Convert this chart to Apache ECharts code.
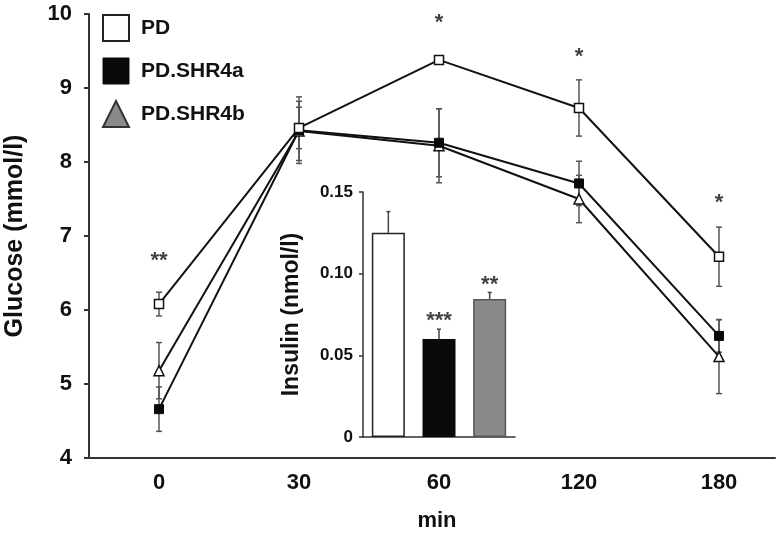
<!DOCTYPE html>
<html>
<head>
<meta charset="utf-8">
<script src="https://cdn.jsdelivr.net/npm/echarts@6/dist/echarts.min.js"></script>
<style>html,body{margin:0;padding:0;background:#fff;}#c{width:779px;height:533px;}</style>
</head>
<body>
<div id="c"></div>
<script>
// ---- data ----
var categories = ['0', '30', '60', '120', '180'];
var yTicks = [4, 5, 6, 7, 8, 9, 10];
var pdMean = [6.08, 8.46, 9.38, 8.73, 6.72];
var pdErr = [0.16, 0.28, 0.05, 0.38, 0.40];
var shr4aMean = [4.66, 8.43, 8.26, 7.71, 5.65];
var shr4aErr = [0.30, 0.45, 0.46, 0.30, 0.22];
var shr4bMean = [5.18, 8.42, 8.22, 7.50, 5.37];
var shr4bErr = [0.38, 0.40, 0.50, 0.32, 0.50];
var sigText = ['**', '', '*', '*', '*'];
var sigLevel = [6.66, null, 9.88, 9.42, 7.45];

var insulinGroups = ['PD', 'PD.SHR4a', 'PD.SHR4b'];
var insulinMean = [0.125, 0.060, 0.0845];
var insulinErr = [0.013, 0.006, 0.004];
var insulinSig = ['', '***', '**'];
var insulinSigLevel = [null, 0.071, 0.093];
var insulinTicks = [0, 0.05, 0.10, 0.15];

// ---- styles ----
var FONT = '"Liberation Sans", Arial, sans-serif';
var barFill = ['#ffffff', '#0a0a0a', '#8a8a8a'];
var barBorder = ['#222222', '#0a0a0a', '#555555'];

function pairs(arr) { return arr.map(function (v, i) { return [i, v]; }); }
function triples(m, e) { return m.map(function (v, i) { return [i, v, e[i]]; }); }

function errRender(params, api) {
  var x = api.value(0), y = api.value(1), e = api.value(2);
  var top = api.coord([x, y + e]), bot = api.coord([x, y - e]);
  var hw = 3, st = { stroke: '#555', lineWidth: 1.5 };
  return { type: 'group', children: [
    { type: 'line', shape: { x1: top[0], y1: top[1], x2: bot[0], y2: bot[1] }, style: st },
    { type: 'line', shape: { x1: top[0] - hw, y1: top[1], x2: top[0] + hw, y2: top[1] }, style: st },
    { type: 'line', shape: { x1: bot[0] - hw, y1: bot[1], x2: bot[0] + hw, y2: bot[1] }, style: st }
  ]};
}
function upErrRender(params, api) {
  var x = api.value(0), y = api.value(1), e = api.value(2);
  var base = api.coord([x, y]), top = api.coord([x, y + e]);
  var hw = 2, st = { stroke: '#444', lineWidth: 1.5 };
  return { type: 'group', children: [
    { type: 'line', shape: { x1: base[0], y1: base[1], x2: top[0], y2: top[1] }, style: st },
    { type: 'line', shape: { x1: top[0] - hw, y1: top[1], x2: top[0] + hw, y2: top[1] }, style: st }
  ]};
}

var chart = echarts.init(document.getElementById('c'), null, { renderer: 'canvas' });

var sigData = [];
sigText.forEach(function (t, i) { if (t) sigData.push({ value: [i, sigLevel[i]], txt: t }); });
var insSigData = [];
insulinSig.forEach(function (t, i) { if (t) insSigData.push({ value: [i, insulinSigLevel[i]], txt: t }); });

var lineCommon = {
  type: 'line', xAxisIndex: 0, yAxisIndex: 0, z: 5,
  lineStyle: { color: '#111', width: 2 },
  itemStyle: { borderColor: '#111', borderWidth: 1.5 },
  emphasis: { disabled: true }, animation: false
};

var option = {
  animation: false,
  backgroundColor: '#fff',
  textStyle: { fontFamily: FONT },
  legend: {
    orient: 'vertical', left: 102, top: 14, padding: 0,
    itemWidth: 26, itemHeight: 26, itemGap: 15.5,
    textStyle: { fontFamily: FONT, fontWeight: 'bold', fontSize: 21, color: '#111', padding: [0, 0, 0, 7] },
    selectedMode: false,
    data: [
      { name: 'PD', icon: 'rect', itemStyle: { color: '#fff', borderColor: '#222', borderWidth: 2 } },
      { name: 'PD.SHR4a', icon: 'rect', itemStyle: { color: '#0a0a0a', borderColor: '#0a0a0a', borderWidth: 1 } },
      { name: 'PD.SHR4b', icon: 'triangle', itemStyle: { color: '#8a8a8a', borderColor: '#333', borderWidth: 2 } }
    ]
  },
  grid: [
    { left: 89, right: 4, top: 14, bottom: 75, containLabel: false, outerBoundsMode: 'none' },
    { left: 363, top: 192, width: 152, height: 245, containLabel: false, outerBoundsMode: 'none' }
  ],
  xAxis: [
    {
      type: 'value', gridIndex: 0, min: -0.5, max: 4.4,
      axisLine: { show: true, onZero: false, lineStyle: { color: '#333', width: 2 } },
      axisTick: { show: false },
      splitLine: { show: false },
      axisLabel: {
        customValues: [0, 1, 2, 3, 4],
        formatter: function (v) { return categories[Math.round(v)]; },
        fontFamily: FONT, fontWeight: 'bold', fontSize: 22, color: '#111', margin: 14
      },
      name: 'min', nameLocation: 'middle', nameGap: 52,
      nameTextStyle: { fontFamily: FONT, fontWeight: 'bold', fontSize: 22, color: '#111', padding: [0, 0, 0, 10] }
    },
    {
      type: 'category', gridIndex: 1, data: insulinGroups,
      axisLine: { lineStyle: { color: '#333', width: 1.5 } },
      axisTick: { show: false }, axisLabel: { show: false }, splitLine: { show: false }
    }
  ],
  yAxis: [
    {
      type: 'value', gridIndex: 0, min: yTicks[0], max: yTicks[yTicks.length - 1], interval: 1,
      axisLine: { show: true, onZero: false, lineStyle: { color: '#333', width: 2 } },
      axisTick: { show: true, length: 5, lineStyle: { color: '#333', width: 2 } },
      splitLine: { show: false },
      axisLabel: { fontFamily: FONT, fontWeight: 'bold', fontSize: 22, color: '#111', margin: 17 },
      name: 'Glucose (mmol/l)', nameLocation: 'middle', nameGap: 61,
      nameTextStyle: { fontFamily: FONT, fontWeight: 'bold', fontSize: 25, color: '#111' }
    },
    {
      type: 'value', gridIndex: 1, min: insulinTicks[0], max: insulinTicks[insulinTicks.length - 1], interval: 0.05,
      axisLine: { show: true, onZero: false, lineStyle: { color: '#333', width: 1.5 } },
      axisTick: { show: true, length: 4, lineStyle: { color: '#333', width: 1.5 } },
      splitLine: { show: false },
      axisLabel: {
        formatter: function (v) { return v === 0 ? '0' : v.toFixed(2); },
        fontFamily: FONT, fontWeight: 'bold', fontSize: 17, color: '#111', margin: 10
      },
      name: 'Insulin (nmol/l)', nameLocation: 'middle', nameGap: 60,
      nameTextStyle: { fontFamily: FONT, fontWeight: 'bold', fontSize: 23, color: '#111' }
    }
  ],
  series: [
    { type: 'custom', name: 'errPD', xAxisIndex: 0, yAxisIndex: 0, z: 3, renderItem: errRender, data: triples(pdMean, pdErr), encode: { x: 0, y: 1 }, silent: true },
    { type: 'custom', name: 'errA', xAxisIndex: 0, yAxisIndex: 0, z: 3, renderItem: errRender, data: triples(shr4aMean, shr4aErr), encode: { x: 0, y: 1 }, silent: true },
    { type: 'custom', name: 'errB', xAxisIndex: 0, yAxisIndex: 0, z: 3, renderItem: errRender, data: triples(shr4bMean, shr4bErr), encode: { x: 0, y: 1 }, silent: true },
    Object.assign({}, lineCommon, { name: 'PD.SHR4b', data: pairs(shr4bMean), symbol: 'triangle', symbolSize: 10, itemStyle: { color: '#fff', borderColor: '#111', borderWidth: 1.5 } }),
    Object.assign({}, lineCommon, { name: 'PD.SHR4a', data: pairs(shr4aMean), symbol: 'rect', symbolSize: 9, itemStyle: { color: '#0a0a0a', borderColor: '#0a0a0a', borderWidth: 1 } }),
    Object.assign({}, lineCommon, { name: 'PD', data: pairs(pdMean), symbol: 'rect', symbolSize: 9, itemStyle: { color: '#fff', borderColor: '#111', borderWidth: 1.5 } }),
    {
      type: 'scatter', name: 'sig', xAxisIndex: 0, yAxisIndex: 0, symbolSize: 0, silent: true, z: 6,
      data: sigData,
      label: { show: true, position: 'inside', formatter: function (p) { return p.data.txt; },
        fontFamily: FONT, fontWeight: 'bold', fontSize: 22, color: '#111' }
    },
    {
      type: 'bar', name: 'insulin', xAxisIndex: 1, yAxisIndex: 1, barWidth: 33, z: 4,
      data: insulinMean.map(function (v, i) {
        return { value: v, itemStyle: { color: barFill[i], borderColor: barBorder[i], borderWidth: 1.5 } };
      }),
      emphasis: { disabled: true }
    },
    { type: 'custom', name: 'errIns', xAxisIndex: 1, yAxisIndex: 1, z: 3, renderItem: upErrRender, data: triples(insulinMean, insulinErr), encode: { x: 0, y: 1 }, silent: true },
    {
      type: 'scatter', name: 'insSig', xAxisIndex: 1, yAxisIndex: 1, symbolSize: 0, silent: true, z: 6,
      data: insSigData,
      label: { show: true, position: 'inside', formatter: function (p) { return p.data.txt; },
        fontFamily: FONT, fontWeight: 'bold', fontSize: 22, color: '#111' }
    }
  ]
};
chart.setOption(option);
</script>
</body>
</html>
